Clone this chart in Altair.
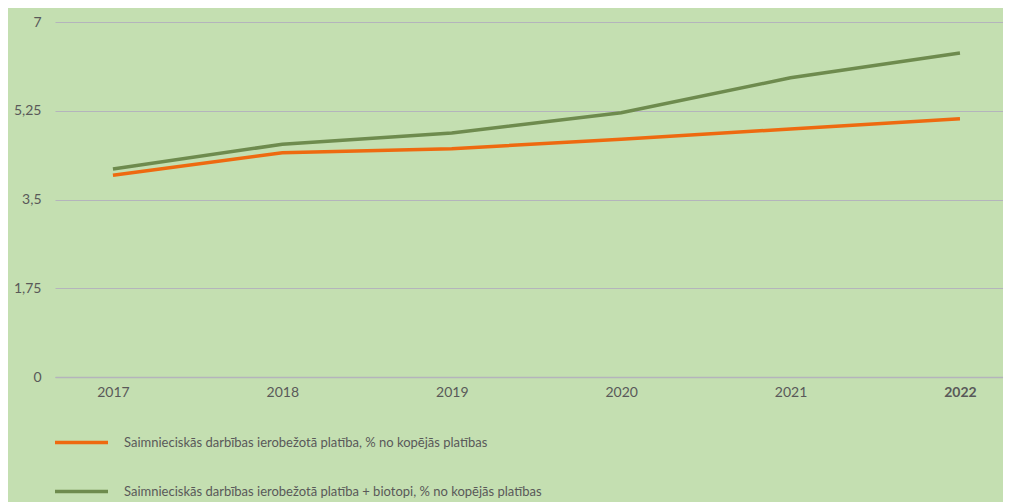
import altair as alt
import pandas as pd

years = [2017, 2018, 2019, 2020, 2021, 2022]
series_a_name = "Saimnieciskās darbības ierobežotā platība, % no kopējās platības"
series_b_name = "Saimnieciskās darbības ierobežotā platība + biotopi, % no kopējās platības"
series_a = [3.98, 4.42, 4.50, 4.69, 4.89, 5.09]
series_b = [4.10, 4.59, 4.81, 5.21, 5.90, 6.39]
y_ticks = [0, 1.75, 3.5, 5.25, 7]

rows = []
for y, a, b in zip(years, series_a, series_b):
    rows.append({"year": y, "value": a, "series": series_a_name})
    rows.append({"year": y, "value": b, "series": series_b_name})
df = pd.DataFrame(rows)

text_color = "#595959"
font = "Lato"

chart = (
    alt.Chart(df)
    .mark_line(strokeWidth=3.5)
    .encode(
        x=alt.X(
            "year:Q",
            scale=alt.Scale(domain=[2016.658, 2022.254], nice=False, zero=False),
            axis=alt.Axis(
                values=years,
                format="d",
                title=None,
                grid=False,
                ticks=False,
                domain=True,
                domainColor="#B4B4BC",
                domainWidth=1.5,
                labelColor=text_color,
                labelFontSize=14,
                labelFont=font,
                labelPadding=8,
                labelFontWeight=alt.condition(
                    "datum.value == 2022", alt.value("bold"), alt.value("normal")
                ),
            ),
        ),
        y=alt.Y(
            "value:Q",
            scale=alt.Scale(domain=[0, 7], nice=False),
            axis=alt.Axis(
                values=y_ticks,
                labelExpr="replace(toString(datum.value), '.', ',')",
                title=None,
                grid=True,
                gridColor="#B4B4BC",
                gridWidth=1.2,
                ticks=False,
                domain=False,
                labelColor=text_color,
                labelFontSize=14,
                labelFont=font,
                labelPadding=14,
            ),
        ),
        color=alt.Color(
            "series:N",
            scale=alt.Scale(
                domain=[series_a_name, series_b_name],
                range=["#EE6A10", "#6E8B4E"],
            ),
            legend=alt.Legend(
                title=None,
                orient="none",
                legendX=-2,
                legendY=392,
                direction="vertical",
                symbolType="stroke",
                symbolSize=2809,
                symbolStrokeWidth=3.5,
                labelOffset=14,
                labelFontSize=13,
                labelFont=font,
                labelColor=text_color,
                rowPadding=13,
                padding=0,
                labelLimit=800,
            ),
        ),
    )
    .properties(
        width=948,
        height=355,
        background="#C4DFB1",
        padding={"left": 47, "top": 14, "right": 0, "bottom": 125},
        autosize=alt.AutoSizeParams(type="none"),
    )
    .configure_view(stroke=None)
)

chart.save("out.html", embed_options={"renderer": "svg", "actions": False})
